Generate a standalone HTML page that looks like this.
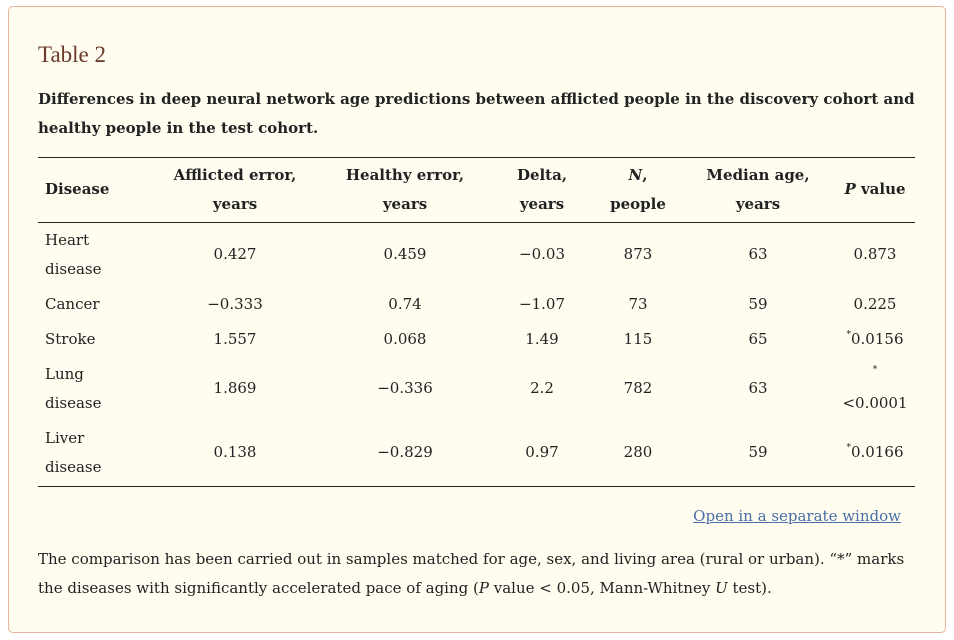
<!DOCTYPE html>
<html><head><meta charset="utf-8"><style>
body{margin:0;width:954px;height:640px;background:#fff;font-family:"DejaVu Serif","Liberation Serif",serif;color:#222;position:relative;overflow:hidden}
.box{position:absolute;left:8px;top:6px;width:936px;height:625px;background:#fffdf0;border:1px solid #e6b49c;border-radius:5px}
.a{position:absolute;white-space:nowrap;font-size:15px;line-height:29px}
.c{transform:translateX(-50%);text-align:center}
.b{font-weight:bold}
.ln{position:absolute;left:38px;width:877px;height:1px;background:#222}
sup{font-size:9px;vertical-align:top;position:relative;top:-4px}
</style></head><body>
<div class="box"></div>
<div class="a" style="left:38px;top:40px;color:#6b3a2a;font-family:'Liberation Serif',serif;font-size:23px">Table 2</div>
<div class="a b" style="left:38px;top:85px;font-size:15px;line-height:29px">Differences in deep neural network age predictions between afflicted people in the discovery cohort and<br>healthy people in the test cohort.</div>
<div class="ln" style="top:157px"></div>
<div class="ln" style="top:222px"></div>
<div class="ln" style="top:486px"></div>
<div class="a b" style="left:45px;top:175px">Disease</div>
<div class="a b c" style="left:235px;top:161px">Afflicted error,<br>years</div>
<div class="a b c" style="left:405px;top:161px">Healthy error,<br>years</div>
<div class="a b c" style="left:542px;top:161px">Delta,<br>years</div>
<div class="a b c" style="left:638px;top:161px"><i>N</i>,<br>people</div>
<div class="a b c" style="left:758px;top:161px">Median age,<br>years</div>
<div class="a b c" style="left:875px;top:175px"><i>P</i> value</div>

<div class="a" style="left:45px;top:226px">Heart<br>disease</div>
<div class="a c" style="left:235px;top:240px">0.427</div><div class="a c" style="left:405px;top:240px">0.459</div><div class="a c" style="left:542px;top:240px">−0.03</div><div class="a c" style="left:638px;top:240px">873</div><div class="a c" style="left:758px;top:240px">63</div><div class="a c" style="left:875px;top:240px">0.873</div>

<div class="a" style="left:45px;top:290px">Cancer</div>
<div class="a c" style="left:235px;top:290px">−0.333</div><div class="a c" style="left:405px;top:290px">0.74</div><div class="a c" style="left:542px;top:290px">−1.07</div><div class="a c" style="left:638px;top:290px">73</div><div class="a c" style="left:758px;top:290px">59</div><div class="a c" style="left:875px;top:290px">0.225</div>

<div class="a" style="left:45px;top:325px">Stroke</div>
<div class="a c" style="left:235px;top:325px">1.557</div><div class="a c" style="left:405px;top:325px">0.068</div><div class="a c" style="left:542px;top:325px">1.49</div><div class="a c" style="left:638px;top:325px">115</div><div class="a c" style="left:758px;top:325px">65</div><div class="a c" style="left:875px;top:325px"><sup>*</sup>0.0156</div>

<div class="a" style="left:45px;top:360px">Lung<br>disease</div>
<div class="a c" style="left:235px;top:374px">1.869</div><div class="a c" style="left:405px;top:374px">−0.336</div><div class="a c" style="left:542px;top:374px">2.2</div><div class="a c" style="left:638px;top:374px">782</div><div class="a c" style="left:758px;top:374px">63</div><div class="a c" style="left:875px;top:360px"><sup>*</sup><br>&lt;0.0001</div>

<div class="a" style="left:45px;top:424px">Liver<br>disease</div>
<div class="a c" style="left:235px;top:438px">0.138</div><div class="a c" style="left:405px;top:438px">−0.829</div><div class="a c" style="left:542px;top:438px">0.97</div><div class="a c" style="left:638px;top:438px">280</div><div class="a c" style="left:758px;top:438px">59</div><div class="a c" style="left:875px;top:438px"><sup>*</sup>0.0166</div>

<div class="a" style="right:53px;top:502px;color:#4a6fa5;text-decoration:underline">Open in a separate window</div>
<div class="a" style="left:38px;top:545px;font-size:15px">The comparison has been carried out in samples matched for age, sex, and living area (rural or urban). “*” marks<br>the diseases with significantly accelerated pace of aging (<i>P</i> value &lt; 0.05, Mann-Whitney <i>U</i> test).</div>
</body></html>
